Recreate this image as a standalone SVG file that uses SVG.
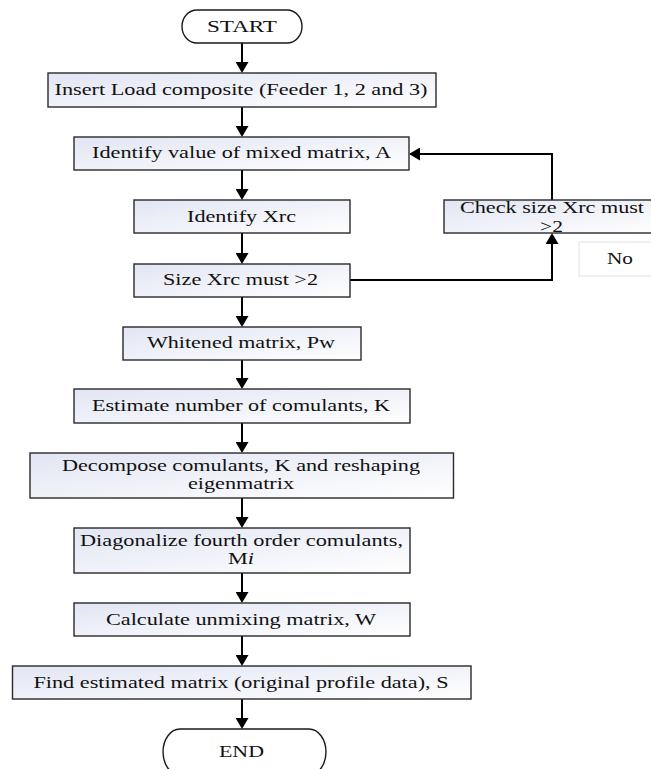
<svg xmlns="http://www.w3.org/2000/svg" width="651" height="769" viewBox="0 0 651 769">
<style>
.box{stroke:#2a2a2a;stroke-width:1.4;fill:url(#g)}
.term{stroke:#1a1a1a;stroke-width:1.4;fill:#ffffff}
.t{font-family:"Liberation Serif","Times New Roman",serif;font-size:16px;fill:#111;text-anchor:middle}
.c{stroke:#000;stroke-width:2;fill:none}
</style>
<defs>
<linearGradient id="g" x1="0" y1="0" x2="1" y2="1">
<stop offset="0" stop-color="#e2e5f3"/>
<stop offset="1" stop-color="#ffffff"/>
</linearGradient>
<marker id="ah" viewBox="0 0 11 13" refX="7" refY="6.5" markerWidth="11" markerHeight="13" markerUnits="userSpaceOnUse" orient="auto">
<path d="M0,0 L11,6.5 L0,13 z" fill="#000"/>
</marker>
</defs>
<rect width="651" height="769" fill="#ffffff"/>
<g id="connectors">
<line class="c" x1="242" y1="43" x2="242" y2="69" marker-end="url(#ah)"/>
<line class="c" x1="242" y1="107" x2="242" y2="133" marker-end="url(#ah)"/>
<line class="c" x1="242" y1="170" x2="242" y2="196" marker-end="url(#ah)"/>
<line class="c" x1="242" y1="233" x2="242" y2="260" marker-end="url(#ah)"/>
<line class="c" x1="242" y1="297" x2="242" y2="323" marker-end="url(#ah)"/>
<line class="c" x1="242" y1="360" x2="242" y2="385" marker-end="url(#ah)"/>
<line class="c" x1="242" y1="423" x2="242" y2="449" marker-end="url(#ah)"/>
<line class="c" x1="242" y1="498" x2="242" y2="524" marker-end="url(#ah)"/>
<line class="c" x1="242" y1="573" x2="242" y2="599" marker-end="url(#ah)"/>
<line class="c" x1="242" y1="636" x2="242" y2="662" marker-end="url(#ah)"/>
<line class="c" x1="242" y1="699" x2="242" y2="725" marker-end="url(#ah)"/>
<polyline class="c" points="350,280 552,280 552,237" marker-end="url(#ah)"/>
<polyline class="c" points="552,200 552,154 413,154" marker-end="url(#ah)"/>
</g>
<g id="start">
<rect class="term" x="182" y="10" width="120" height="33" rx="15" ry="16.5"/>
<text class="t" x="242" y="32" textLength="70" lengthAdjust="spacingAndGlyphs">START</text>
</g>
<g id="insert">
<rect class="box" x="48" y="73" width="388" height="34"/>
<text class="t" x="241" y="95" textLength="373" lengthAdjust="spacingAndGlyphs">Insert Load composite (Feeder 1, 2 and 3)</text>
</g>
<g id="identify-a">
<rect class="box" x="74" y="137" width="335" height="33"/>
<text class="t" x="241.5" y="158" textLength="299" lengthAdjust="spacingAndGlyphs">Identify value of mixed matrix, A</text>
</g>
<g id="identify-xrc">
<rect class="box" x="134" y="200" width="216" height="33"/>
<text class="t" x="241.5" y="222" textLength="109" lengthAdjust="spacingAndGlyphs">Identify Xrc</text>
</g>
<g id="check">
<rect class="box" x="444" y="200" width="216" height="33"/>
<text class="t" x="552" y="213" textLength="184" lengthAdjust="spacingAndGlyphs">Check size Xrc must</text>
<text class="t" x="551.5" y="232" textLength="23" lengthAdjust="spacingAndGlyphs">&gt;2</text>
</g>
<g id="no">
<rect x="579" y="242" width="80" height="34" fill="#ffffff" stroke="#e3e6ef" stroke-width="1.2"/>
<text class="t" x="620" y="264" textLength="26" lengthAdjust="spacingAndGlyphs">No</text>
</g>
<g id="size">
<rect class="box" x="134" y="264" width="216" height="33"/>
<text class="t" x="240.5" y="285" textLength="155" lengthAdjust="spacingAndGlyphs">Size Xrc must &gt;2</text>
</g>
<g id="whitened">
<rect class="box" x="123" y="327" width="238" height="33"/>
<text class="t" x="241" y="348" textLength="188" lengthAdjust="spacingAndGlyphs">Whitened matrix, Pw</text>
</g>
<g id="estimate">
<rect class="box" x="74" y="389" width="336" height="34"/>
<text class="t" x="241" y="411" textLength="298" lengthAdjust="spacingAndGlyphs">Estimate number of comulants, K</text>
</g>
<g id="decompose">
<rect class="box" x="30" y="453" width="423.5" height="45"/>
<text class="t" x="241" y="471" textLength="358" lengthAdjust="spacingAndGlyphs">Decompose comulants, K and reshaping</text>
<text class="t" x="241" y="489" textLength="106" lengthAdjust="spacingAndGlyphs">eigenmatrix</text>
</g>
<g id="diagonalize">
<rect class="box" x="74" y="528" width="336" height="45"/>
<text class="t" x="241.5" y="546" textLength="323" lengthAdjust="spacingAndGlyphs">Diagonalize fourth order comulants,</text>
<text class="t" x="241" y="564" textLength="26" lengthAdjust="spacingAndGlyphs">M<tspan font-style="italic">i</tspan></text>
</g>
<g id="calculate">
<rect class="box" x="74" y="603" width="336" height="33"/>
<text class="t" x="241" y="625" textLength="270" lengthAdjust="spacingAndGlyphs">Calculate unmixing matrix, W</text>
</g>
<g id="find">
<rect class="box" x="12.5" y="666" width="458.5" height="33"/>
<text class="t" x="241" y="688" textLength="415" lengthAdjust="spacingAndGlyphs">Find estimated matrix (original profile data), S</text>
</g>
<g id="end">
<rect class="term" x="163" y="729" width="163" height="46" rx="17" ry="23"/>
<text class="t" x="241.5" y="757" textLength="45" lengthAdjust="spacingAndGlyphs">END</text>
</g>
</svg>
